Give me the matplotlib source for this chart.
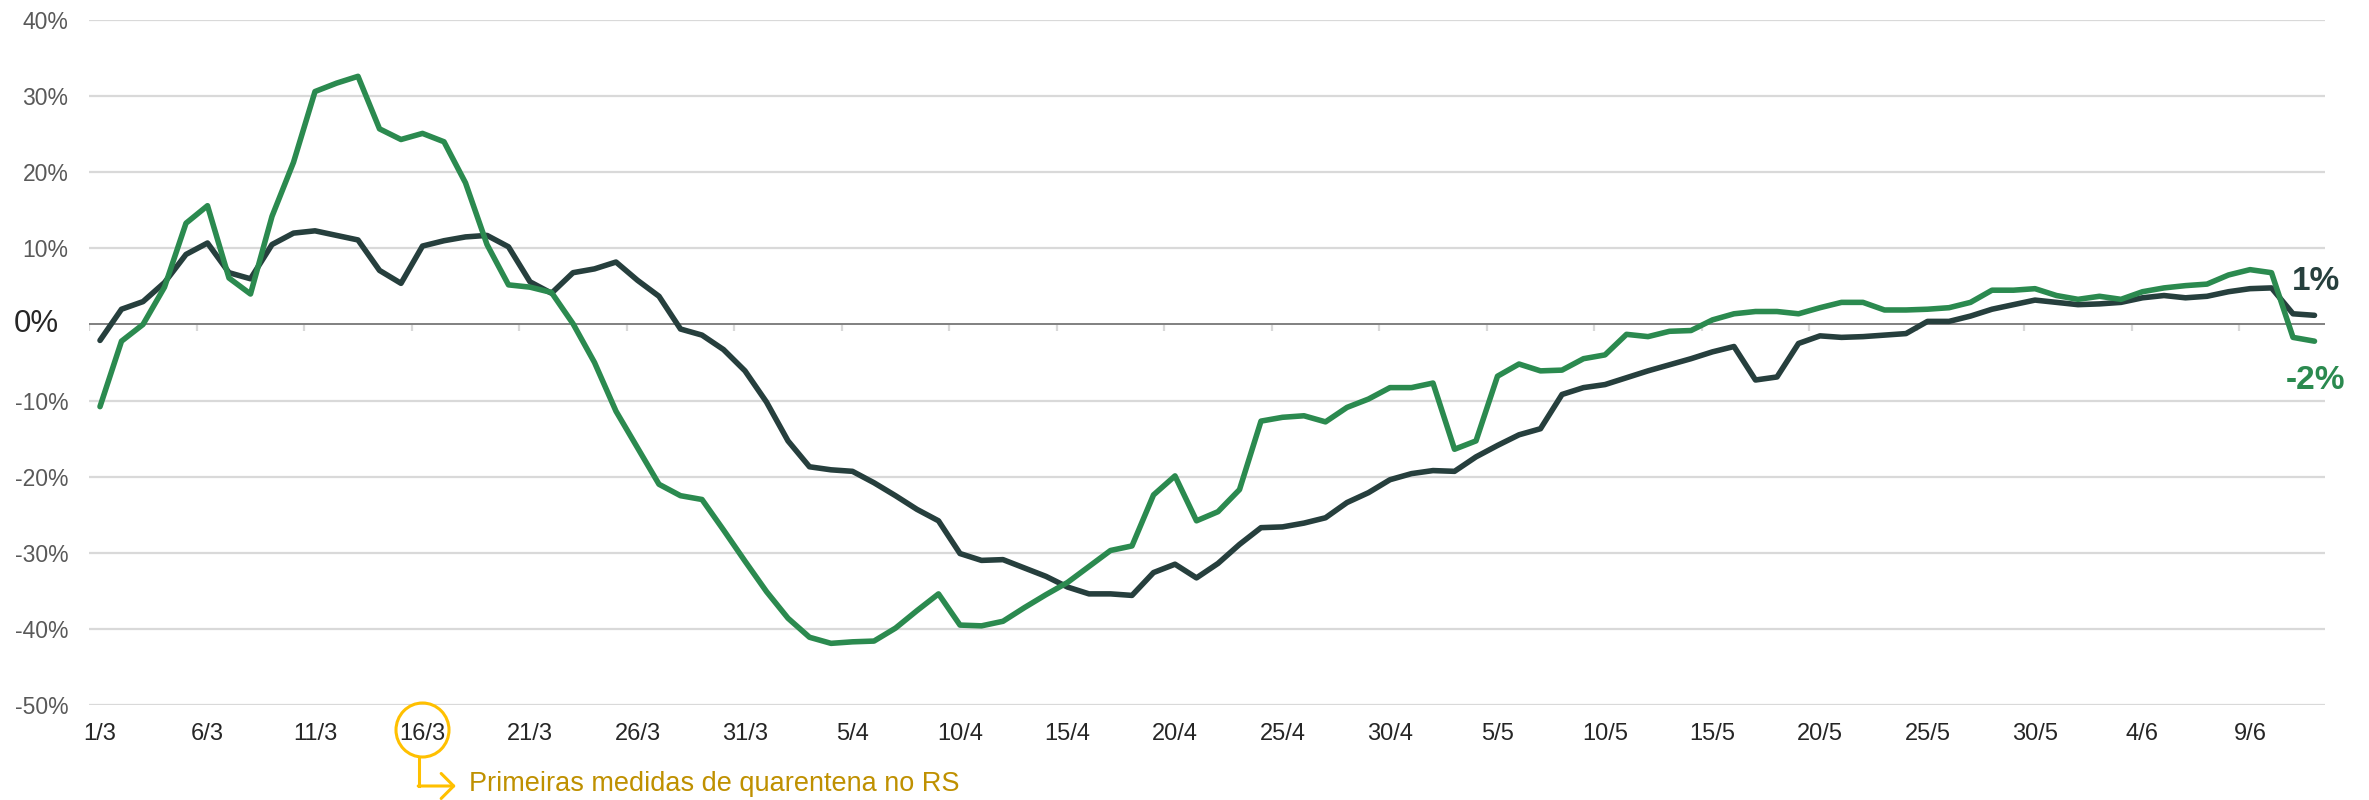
import matplotlib
matplotlib.use("Agg")
import matplotlib.pyplot as plt
import matplotlib.transforms as mtransforms
from matplotlib.patches import Ellipse
from matplotlib.lines import Line2D
import numpy as np
import pandas as pd

# ---------------- data ----------------
start_date = "2020-03-01"
n_days = 104
dates = pd.date_range(start_date, periods=n_days, freq="D")
date_labels = [f"{d.day}/{d.month}" for d in dates]

green_series = [
    -10.8, -2.2, 0.0, 4.9, 13.3, 15.6, 6.1, 4.0, 14.2, 21.3,
    30.6, 31.7, 32.6, 25.7, 24.3, 25.1, 24.0, 18.6, 10.5, 5.2,
    4.9, 4.2, 0.1, -5.0, -11.4, -16.2, -21.0, -22.5, -23.0, -27.0,
    -31.1, -35.1, -38.6, -41.1, -41.9, -41.7, -41.6, -39.9, -37.6, -35.4,
    -39.5, -39.6, -39.0, -37.2, -35.5, -33.9, -31.8, -29.7, -29.1, -22.4,
    -19.9, -25.8, -24.6, -21.7, -12.7, -12.2, -12.0, -12.8, -10.9, -9.8,
    -8.3, -8.3, -7.7, -16.4, -15.3, -6.8, -5.2, -6.1, -6.0, -4.5,
    -4.0, -1.3, -1.6, -0.9, -0.8, 0.6, 1.4, 1.7, 1.7, 1.4,
    2.2, 2.9, 2.9, 1.9, 1.9, 2.0, 2.2, 2.9, 4.5, 4.5,
    4.7, 3.8, 3.3, 3.7, 3.3, 4.3, 4.8, 5.1, 5.3, 6.5,
    7.2, 6.8, -1.7, -2.2,
]

dark_series = [
    -2.1, 2.0, 3.0, 5.5, 9.2, 10.7, 6.8, 6.0, 10.5, 12.0,
    12.3, 11.7, 11.1, 7.1, 5.4, 10.3, 11.0, 11.5, 11.7, 10.2,
    5.6, 4.1, 6.8, 7.3, 8.2, 5.8, 3.7, -0.6, -1.4, -3.3,
    -6.1, -10.2, -15.3, -18.7, -19.1, -19.3, -20.8, -22.5, -24.3, -25.8,
    -30.1, -31.0, -30.9, -32.0, -33.1, -34.5, -35.4, -35.4, -35.6, -32.6,
    -31.5, -33.3, -31.4, -28.9, -26.7, -26.6, -26.1, -25.4, -23.4, -22.1,
    -20.4, -19.6, -19.2, -19.3, -17.4, -15.9, -14.5, -13.7, -9.2, -8.3,
    -7.9, -7.0, -6.1, -5.3, -4.5, -3.6, -2.9, -7.3, -6.9, -2.5,
    -1.5, -1.7, -1.6, -1.4, -1.2, 0.4, 0.4, 1.1, 2.0, 2.6,
    3.2, 2.9, 2.6, 2.7, 2.9, 3.5, 3.8, 3.5, 3.7, 4.3,
    4.7, 4.8, 1.4, 1.2,
]

y_ticks = [40, 30, 20, 10, 0, -10, -20, -30, -40, -50]
y_tick_labels = [f"{v}%" for v in y_ticks]
label_step = 5
end_label_dark = "1%"
end_label_green = "-2%"
annotation_text = "Primeiras medidas de quarentena no RS"
annotated_index = 15

# ---------------- style ----------------
GREEN = "#2B8A4F"
DARK = "#263F3D"
GRID = "#D9D9D9"
ZERO = "#808080"
YLAB = "#595959"
XLAB = "#262626"
GOLD = "#FFC000"
GOLD_TEXT = "#BF9000"
FONT = ["Liberation Sans", "DejaVu Sans"]
plt.rcParams["font.family"] = FONT

W, H = 2369, 800
fig = plt.figure(figsize=(W / 100, H / 100), dpi=100)
ax = fig.add_axes([89.25 / W, 1 - 705 / H, (2325.25 - 89.25) / W, (705 - 20) / H])

x = np.arange(n_days)
ax.set_xlim(-0.5, n_days - 0.5)
ax.set_ylim(-50, 40)

# gridlines
for v in y_ticks:
    if v != 0:
        ax.axhline(v, color=GRID, lw=1.6, zorder=1)
ax.axhline(0, color=ZERO, lw=1.4, zorder=2)

# category tick marks at zero line (between categories)
bounds = np.arange(-0.5, n_days - 1, label_step)
ax.vlines(bounds, 0, -0.9, color=GRID, lw=1.6, zorder=1)

# series
ax.plot(x, dark_series, color=DARK, lw=4.0, solid_joinstyle="round",
        solid_capstyle="round", zorder=4)
ax.plot(x, green_series, color=GREEN, lw=4.0, solid_joinstyle="round",
        solid_capstyle="round", zorder=5)

# axes styling
for s in ax.spines.values():
    s.set_visible(False)
ax.set_yticks(y_ticks)
ax.set_yticklabels([("" if v == 0 else l) for v, l in zip(y_ticks, y_tick_labels)],
                   fontsize=16.5, color=YLAB)
ax.tick_params(axis="y", length=0, pad=15)
xt = x[::label_step]
ax.set_xticks(xt)
ax.set_xticklabels([date_labels[i] for i in xt], fontsize=17, color=XLAB)
ax.tick_params(axis="x", length=0, pad=13)

# bigger 0% label
ax.annotate("0%", xy=(0, 0), xycoords=("axes fraction", "data"),
            xytext=(-22, 0), textcoords="offset points",
            ha="right", va="center", fontsize=22.5, color=XLAB)

# end labels
ax.annotate(end_label_dark, xy=(n_days - 1, dark_series[-1]), xycoords="data",
            xytext=(1, 24), textcoords="offset points", ha="center", va="center",
            fontsize=24, fontweight="bold", color=DARK, annotation_clip=False)
ax.annotate(end_label_green, xy=(n_days - 1, green_series[-1]), xycoords="data",
            xytext=(1, -28), textcoords="offset points", ha="center", va="center",
            fontsize=24, fontweight="bold", color=GREEN, annotation_clip=False)

# annotation around the 16/3 label
blend = mtransforms.blended_transform_factory(ax.transData, fig.transFigure)
ell = Ellipse((annotated_index, 1 - 730 / H), width=53 / 21.5, height=54 / H,
              transform=blend, fill=False, edgecolor=GOLD, lw=2.2, clip_on=False)
fig.add_artist(ell)
xa = annotated_index - 0.15
fig.add_artist(Line2D([xa, xa], [1 - 757 / H, 1 - 786 / H], transform=blend,
                      color=GOLD, lw=2.2))
ax.annotate("", xy=(annotated_index + 1.55, 1 - 786 / H), xycoords=blend,
            xytext=(xa - 0.05, 1 - 786 / H), textcoords=blend,
            arrowprops=dict(arrowstyle="->,head_length=0.45,head_width=0.45",
                            color=GOLD, lw=2.2, mutation_scale=20,
                            shrinkA=0, shrinkB=0), annotation_clip=False)
ax.annotate(annotation_text, xy=(annotated_index + 2.15, 1 - 784 / H), xycoords=blend,
            ha="left", va="center", fontsize=19.5, color=GOLD_TEXT,
            annotation_clip=False)

fig.savefig("out.png", dpi=100)
